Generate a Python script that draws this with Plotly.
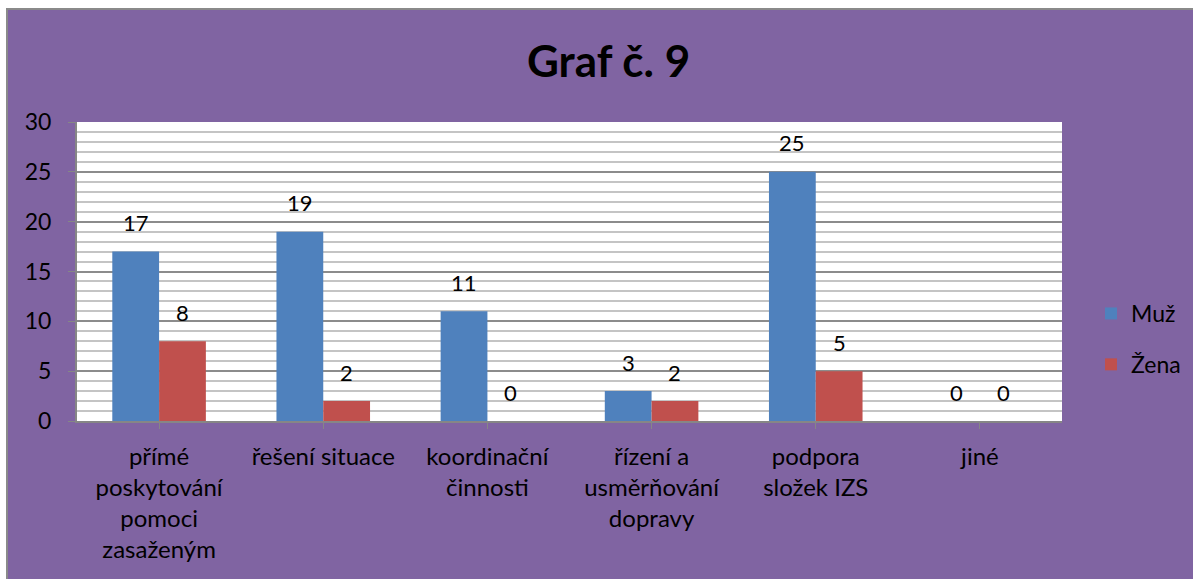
import plotly.graph_objects as go

categories = ["přímé<br>poskytování<br>pomoci<br>zasaženým", "řešení situace",
              "koordinační<br>činnosti", "řízení a<br>usměrňování<br>dopravy",
              "podpora<br>složek IZS", "jiné"]
muz = [17, 19, 11, 3, 25, 0]
zena = [8, 2, 0, 2, 5, 0]
series = [("Muž", muz, "#4F81BD"), ("Žena", zena, "#C0504D")]
title = "Graf č. 9"

W, H = 1193, 579
L, R, T, B = 77, 131, 122, 158
PURPLE = "#8064A2"
FONT = "Lato"
BARGAP = 0.43

plot_w = W - L - R
plot_h = H - T - B


def px_x(p):
    return (p - L) / plot_w


def px_y(p):
    return (H - B - p) / plot_h


fig = go.Figure()
for name, vals, col in series:
    fig.add_trace(go.Bar(x=list(range(len(categories))), y=vals, name=name,
                         marker=dict(color=col, line=dict(width=0)),
                         legendgroup=name, hoverinfo="skip"))

bar_w_px = plot_w / len(categories) * (1 - BARGAP) / 2
annotations = []
for i, (name, vals, col) in enumerate(series):
    shift = (-0.5 if i == 0 else 0.5) * bar_w_px
    for j, v in enumerate(vals):
        annotations.append(dict(x=j, y=v, text=str(v), showarrow=False,
                                xshift=shift, yshift=29, yanchor="middle",
                                font=dict(family=FONT, size=22, color="black")))

annotations.append(dict(text="<b>" + title + "</b>", xref="paper", yref="paper",
                        x=px_x(608), y=px_y(60),
                        showarrow=False, xanchor="center", yanchor="middle",
                        font=dict(family=FONT, size=44, color="black")))

shapes = [
    dict(type="rect", xref="paper", yref="paper", x0=px_x(-5), x1=px_x(W + 5),
         y0=px_y(-5), y1=px_y(8), fillcolor="white", line=dict(width=0), layer="below"),
    dict(type="rect", xref="paper", yref="paper", x0=px_x(-5), x1=px_x(6),
         y0=px_y(-5), y1=px_y(H + 5), fillcolor="white", line=dict(width=0), layer="below"),
    dict(type="line", xref="paper", yref="paper", x0=px_x(6), x1=px_x(W + 5),
         y0=px_y(9), y1=px_y(9), line=dict(color="#8a8a8a", width=2)),
    dict(type="line", xref="paper", yref="paper", x0=px_x(7), x1=px_x(7),
         y0=px_y(8), y1=px_y(H + 5), line=dict(color="#8a8a8a", width=2)),
]

fig.update_layout(
    width=W, height=H,
    margin=dict(l=L, r=R, t=T, b=B, pad=0, autoexpand=False),
    paper_bgcolor=PURPLE, plot_bgcolor="white",
    barmode="group", bargap=BARGAP, bargroupgap=0,
    font=dict(family=FONT, size=22, color="black"),
    showlegend=True,
    legend=dict(x=px_x(1091), y=px_y(339), xanchor="left", yanchor="middle",
                bgcolor="rgba(0,0,0,0)", font=dict(family=FONT, size=23),
                traceorder="grouped", tracegroupgap=18, itemwidth=30),
    annotations=annotations,
    shapes=shapes,
)
fig.update_xaxes(
    range=[-0.5, len(categories) - 0.5],
    tickmode="array", tickvals=list(range(len(categories))), ticktext=categories,
    ticks="outside", tickson="boundaries", ticklen=6, tickcolor="#868686",
    showline=True, linecolor="#868686", linewidth=2,
    showgrid=False, zeroline=False, automargin=False,
    tickfont=dict(family=FONT, size=24), ticklabelstandoff=7,
)
fig.update_yaxes(
    range=[0, 30], dtick=5, tick0=0,
    ticks="outside", ticklen=7, tickcolor="#868686",
    showline=True, linecolor="#868686", linewidth=2,
    showgrid=True, gridcolor="#8c8c8c", gridwidth=1.5,
    minor=dict(dtick=1, showgrid=True, gridcolor="#c4c4c4", gridwidth=1.5),
    zeroline=False, automargin=False,
    tickfont=dict(family=FONT, size=23), ticklabelstandoff=12,
)

fig.write_html("out.html", config={"displayModeBar": False},
               post_script="document.body.style.margin='0';document.body.style.overflow='hidden';")
